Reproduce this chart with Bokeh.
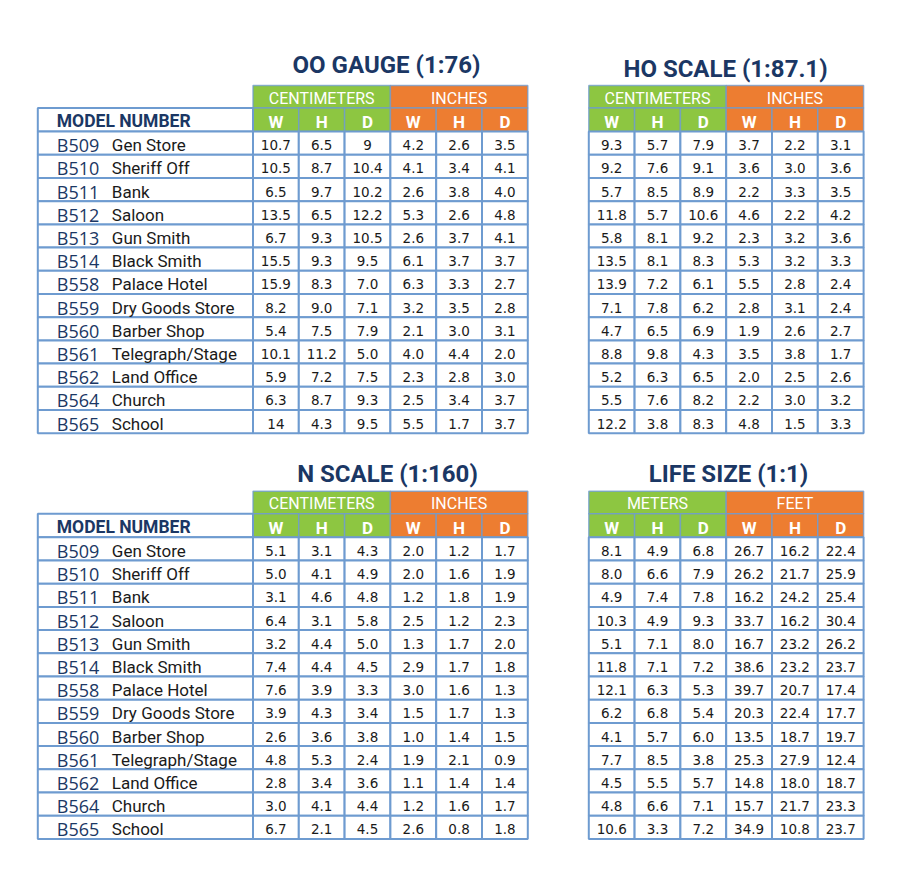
from bokeh.plotting import figure
from bokeh.models import Range1d, ColumnDataSource
from bokeh.core.properties import value
from bokeh.embed import file_html
from bokeh.resources import INLINE

# ---------------- data ----------------
codes = ["B509", "B510", "B511", "B512", "B513", "B514", "B558", "B559",
         "B560", "B561", "B562", "B564", "B565"]
names = ["Gen Store", "Sheriff Off", "Bank", "Saloon", "Gun Smith", "Black Smith",
         "Palace Hotel", "Dry Goods Store", "Barber Shop", "Telegraph/Stage",
         "Land Office", "Church", "School"]
dims = ["W", "H", "D"]

oo_title = "OO GAUGE (1:76)"
oo_units = ["CENTIMETERS", "INCHES"]
oo_cm_w = ["10.7", "10.5", "6.5", "13.5", "6.7", "15.5", "15.9", "8.2", "5.4", "10.1", "5.9", "6.3", "14"]
oo_cm_h = ["6.5", "8.7", "9.7", "6.5", "9.3", "9.3", "8.3", "9.0", "7.5", "11.2", "7.2", "8.7", "4.3"]
oo_cm_d = ["9", "10.4", "10.2", "12.2", "10.5", "9.5", "7.0", "7.1", "7.9", "5.0", "7.5", "9.3", "9.5"]
oo_in_w = ["4.2", "4.1", "2.6", "5.3", "2.6", "6.1", "6.3", "3.2", "2.1", "4.0", "2.3", "2.5", "5.5"]
oo_in_h = ["2.6", "3.4", "3.8", "2.6", "3.7", "3.7", "3.3", "3.5", "3.0", "4.4", "2.8", "3.4", "1.7"]
oo_in_d = ["3.5", "4.1", "4.0", "4.8", "4.1", "3.7", "2.7", "2.8", "3.1", "2.0", "3.0", "3.7", "3.7"]

ho_title = "HO SCALE (1:87.1)"
ho_units = ["CENTIMETERS", "INCHES"]
ho_cm_w = ["9.3", "9.2", "5.7", "11.8", "5.8", "13.5", "13.9", "7.1", "4.7", "8.8", "5.2", "5.5", "12.2"]
ho_cm_h = ["5.7", "7.6", "8.5", "5.7", "8.1", "8.1", "7.2", "7.8", "6.5", "9.8", "6.3", "7.6", "3.8"]
ho_cm_d = ["7.9", "9.1", "8.9", "10.6", "9.2", "8.3", "6.1", "6.2", "6.9", "4.3", "6.5", "8.2", "8.3"]
ho_in_w = ["3.7", "3.6", "2.2", "4.6", "2.3", "5.3", "5.5", "2.8", "1.9", "3.5", "2.0", "2.2", "4.8"]
ho_in_h = ["2.2", "3.0", "3.3", "2.2", "3.2", "3.2", "2.8", "3.1", "2.6", "3.8", "2.5", "3.0", "1.5"]
ho_in_d = ["3.1", "3.6", "3.5", "4.2", "3.6", "3.3", "2.4", "2.4", "2.7", "1.7", "2.6", "3.2", "3.3"]

n_title = "N SCALE (1:160)"
n_units = ["CENTIMETERS", "INCHES"]
n_cm_w = ["5.1", "5.0", "3.1", "6.4", "3.2", "7.4", "7.6", "3.9", "2.6", "4.8", "2.8", "3.0", "6.7"]
n_cm_h = ["3.1", "4.1", "4.6", "3.1", "4.4", "4.4", "3.9", "4.3", "3.6", "5.3", "3.4", "4.1", "2.1"]
n_cm_d = ["4.3", "4.9", "4.8", "5.8", "5.0", "4.5", "3.3", "3.4", "3.8", "2.4", "3.6", "4.4", "4.5"]
n_in_w = ["2.0", "2.0", "1.2", "2.5", "1.3", "2.9", "3.0", "1.5", "1.0", "1.9", "1.1", "1.2", "2.6"]
n_in_h = ["1.2", "1.6", "1.8", "1.2", "1.7", "1.7", "1.6", "1.7", "1.4", "2.1", "1.4", "1.6", "0.8"]
n_in_d = ["1.7", "1.9", "1.9", "2.3", "2.0", "1.8", "1.3", "1.3", "1.5", "0.9", "1.4", "1.7", "1.8"]

life_title = "LIFE SIZE (1:1)"
life_units = ["METERS", "FEET"]
life_m_w = ["8.1", "8.0", "4.9", "10.3", "5.1", "11.8", "12.1", "6.2", "4.1", "7.7", "4.5", "4.8", "10.6"]
life_m_h = ["4.9", "6.6", "7.4", "4.9", "7.1", "7.1", "6.3", "6.8", "5.7", "8.5", "5.5", "6.6", "3.3"]
life_m_d = ["6.8", "7.9", "7.8", "9.3", "8.0", "7.2", "5.3", "5.4", "6.0", "3.8", "5.7", "7.1", "7.2"]
life_ft_w = ["26.7", "26.2", "16.2", "33.7", "16.7", "38.6", "39.7", "20.3", "13.5", "25.3", "14.8", "15.7", "34.9"]
life_ft_h = ["16.2", "21.7", "24.2", "16.2", "23.2", "23.2", "20.7", "22.4", "18.7", "27.9", "18.0", "21.7", "10.8"]
life_ft_d = ["22.4", "25.9", "25.4", "30.4", "26.2", "23.7", "17.4", "17.7", "19.7", "12.4", "18.7", "23.3", "23.7"]

# ---------------- style ----------------
W, H = 884, 854
GREEN = "#8dc641"
ORANGE = "#ed7d31"
BLUE = "#6e9bd0"
NAVY = "#1b3764"
TXT = "#1a1a1a"
COL_W = 45.8
HEAD_H = 22.5
SUB_H = 23.6
ROW_H = 23.2

p = figure(width=W, height=H, output_backend="svg", toolbar_location=None,
           x_axis_type=None, y_axis_type=None, min_border=0,
           x_range=Range1d(0, W), y_range=Range1d(H, 0),
           background_fill_color="white", border_fill_color="white")
p.outline_line_color = None
p.grid.visible = False


def draw_table(x0, y0, title, title_x, title_y, units, cols, model_x=None):
    # title
    p.text(x=[title_x], y=[title_y], text=[title], text_font=value("Roboto"),
           text_font_style="bold", text_font_size="24px", text_color=NAVY,
           text_align="center", text_baseline="middle")
    # unit header
    fills = [GREEN, ORANGE]
    for k in range(2):
        l = x0 + 3 * k * COL_W
        p.quad(left=[l], right=[l + 3 * COL_W], top=[y0], bottom=[y0 + HEAD_H],
               fill_color=fills[k], line_color=BLUE, line_width=1.5, line_alpha=0.75)
        p.text(x=[l + 1.5 * COL_W], y=[y0 + HEAD_H / 2 + 1.5], text=[units[k]],
               text_font=value("Roboto"), text_font_size="16px",
               text_color="white", text_align="center", text_baseline="middle")
    ys = y0 + HEAD_H
    lefts = [x0 + j * COL_W for j in range(6)]
    p.quad(left=lefts, right=[l + COL_W for l in lefts], top=[ys] * 6,
           bottom=[ys + SUB_H] * 6, fill_color=[GREEN] * 3 + [ORANGE] * 3,
           line_color=BLUE, line_width=1.5, line_alpha=0.75)
    p.text(x=[l + COL_W / 2 for l in lefts], y=[ys + SUB_H / 2 + 2] * 6, text=dims * 2,
           text_font=value("Roboto"), text_font_style="bold", text_font_size="17px",
           text_color="white", text_align="center", text_baseline="middle")
    yr = ys + SUB_H
    nrows = len(cols[0])
    if model_x is not None:
        p.quad(left=[model_x], right=[x0], top=[ys], bottom=[yr], fill_color="white",
               line_color=BLUE, line_width=2)
        p.text(x=[model_x + 19], y=[ys + SUB_H / 2 + 1.5], text=["MODEL NUMBER"],
               text_font=value("Roboto"), text_font_style="bold", text_font_size="17.5px",
               text_color=NAVY, text_align="left", text_baseline="middle")
        tops = [yr + i * ROW_H for i in range(nrows)]
        p.quad(left=[model_x] * nrows, right=[x0] * nrows, top=tops,
               bottom=[t + ROW_H for t in tops], fill_color="white", line_color=BLUE,
               line_width=2)
        src = ColumnDataSource(dict(y=[t + ROW_H / 2 + 2 for t in tops], c=codes, n=names))
        p.text(x=model_x + 19, y="y", text="c", source=src, text_font=value("Open Sans"),
               text_font_size="18px", text_color=NAVY,
               text_align="left", text_baseline="middle")
        p.text(x=model_x + 74, y="y", text="n", source=src, text_font=value("Roboto"),
               text_font_size="17px", text_color=TXT, text_align="left",
               text_baseline="middle")
    cl, cr, ct, cb, cx, cy, ctext = [], [], [], [], [], [], []
    for j, col in enumerate(cols):
        for i, v in enumerate(col):
            t = yr + i * ROW_H
            cl.append(lefts[j]); cr.append(lefts[j] + COL_W)
            ct.append(t); cb.append(t + ROW_H)
            cx.append(lefts[j] + COL_W / 2); cy.append(t + ROW_H / 2 + 2)
            ctext.append(v)
    p.quad(left=cl, right=cr, top=ct, bottom=cb, fill_color="white",
           line_color=BLUE, line_width=2)
    p.text(x=cx, y=cy, text=ctext, text_font=value("DejaVu Sans"),
           text_font_size="13.5px", text_color=TXT, text_align="center",
           text_baseline="middle")


draw_table(252.5, 85.0, oo_title, 386, 64.7, oo_units,
           [oo_cm_w, oo_cm_h, oo_cm_d, oo_in_w, oo_in_h, oo_in_d], model_x=37.3)
draw_table(588.3, 85.0, ho_title, 725, 68.3, ho_units,
           [ho_cm_w, ho_cm_h, ho_cm_d, ho_in_w, ho_in_h, ho_in_d])
draw_table(252.5, 490.7, n_title, 387, 473.7, n_units,
           [n_cm_w, n_cm_h, n_cm_d, n_in_w, n_in_h, n_in_d], model_x=37.3)
draw_table(588.3, 490.7, life_title, 728, 473.7, life_units,
           [life_m_w, life_m_h, life_m_d, life_ft_w, life_ft_h, life_ft_d])

open("out.html", "w").write(file_html(p, INLINE))
